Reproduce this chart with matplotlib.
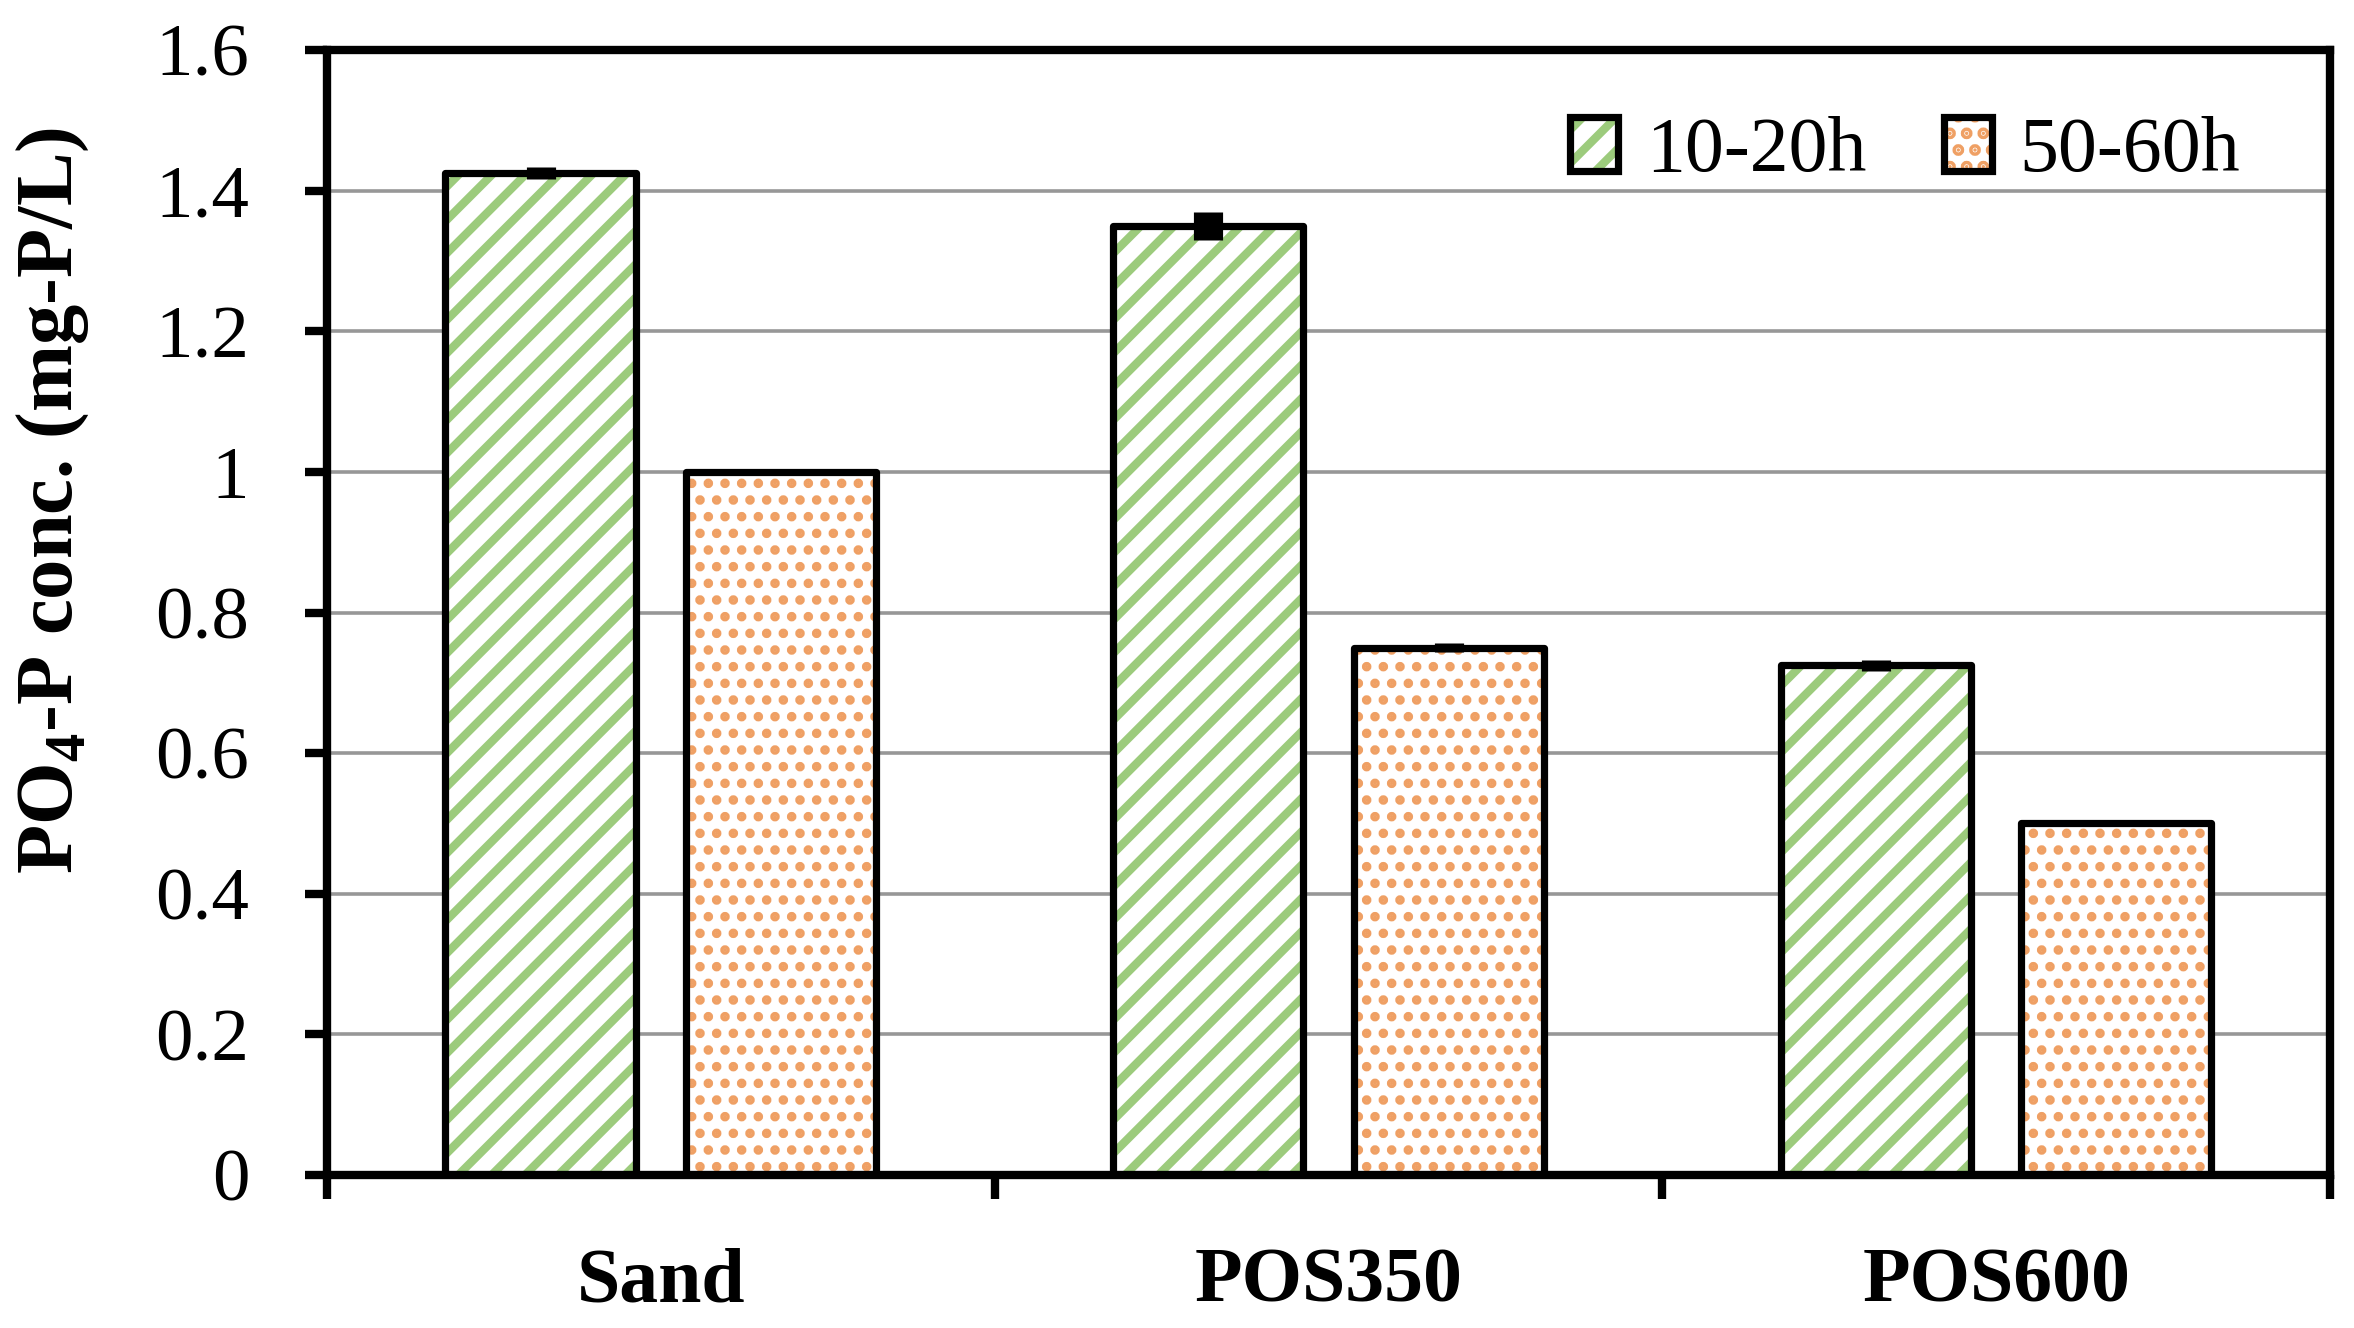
import matplotlib
matplotlib.use("Agg")
import matplotlib.pyplot as plt
import numpy as np
from matplotlib.patches import Patch

# Data
categories = ["Sand", "POS350", "POS600"]
series_names = ["10-20h", "50-60h"]
conc_10_20h = [1.425, 1.35, 0.725]
conc_50_60h = [1.00, 0.75, 0.50]
err_10_20h = [0.008, 0.02, 0.008]
err_50_60h = [0.003, 0.006, 0.003]
y_ticks = [0, 0.2, 0.4, 0.6, 0.8, 1.0, 1.2, 1.4, 1.6]
y_tick_labels = ["0", "0.2", "0.4", "0.6", "0.8", "1", "1.2", "1.4", "1.6"]

plt.rcParams["font.family"] = ["Liberation Serif", "DejaVu Serif"]
plt.rcParams["mathtext.fontset"] = "custom"
plt.rcParams["mathtext.rm"] = "Liberation Serif"
plt.rcParams["mathtext.bf"] = "Liberation Serif:bold"
plt.rcParams["hatch.linewidth"] = 3.0

green = "#9ccb7c"
orange = "#efa064"
bar_w = 0.285
offset = 0.18

fig, ax = plt.subplots(figsize=(11.77, 6.64), dpi=200)
fig.subplots_adjust(left=0.1389, right=0.9898, bottom=0.1152, top=0.9623)

x = np.arange(len(categories)) + 0.5


# Hatched fill, black outline on top, thick black error bar
def hatched_bars(xpos, vals, errs, hatch, color, hatch_lw):
    fill = ax.bar(xpos, vals, bar_w, color="white", edgecolor=color,
                  linewidth=0, hatch=hatch, zorder=2)
    for p in fill:
        if hasattr(p, "set_hatch_linewidth"):
            p.set_hatch_linewidth(hatch_lw)
    ax.bar(xpos, vals, bar_w, facecolor="none", edgecolor="black",
           linewidth=2.6, joinstyle="round", zorder=3)
    ax.errorbar(xpos, vals, yerr=errs, fmt="none", ecolor="black",
                elinewidth=10.5, capsize=0, zorder=4)


hatched_bars(x - offset, conc_10_20h, err_10_20h, "//", green, 3.0)
hatched_bars(x + offset, conc_50_60h, err_50_60h, "..", orange, 2.2)

ax.set_xlim(0, 3)
ax.set_ylim(0, 1.6)
ax.set_yticks(y_ticks)
ax.set_yticklabels(y_tick_labels, fontsize=27)
ax.set_xticks([0, 1, 2, 3])
ax.set_xticklabels([])
ax.set_xticks(x, minor=True)
ax.set_xticklabels(categories, minor=True, fontsize=28, fontweight="bold")
ax.tick_params(axis="x", which="major", direction="out", length=8.5, width=3)
ax.tick_params(axis="x", which="minor", length=0, pad=26)
ax.tick_params(axis="y", direction="out", length=8, width=3, pad=20)
for s in ax.spines.values():
    s.set_linewidth(3)
ax.yaxis.grid(True, color="#979797", linewidth=1.3)
ax.set_axisbelow(True)

ax.set_ylabel("PO$_\\mathbf{4}$-P conc. (mg-P/L)", fontsize=29, fontweight="bold")
ax.yaxis.set_label_coords(-0.118, 0.6)

# Legend: hatch patch overlaid with black outline
g_fill = Patch(facecolor="white", edgecolor=green, linewidth=0, hatch="//")
o_fill = Patch(facecolor="white", edgecolor=orange, linewidth=0, hatch="..")
outline = Patch(facecolor="none", edgecolor="black", linewidth=2.6, joinstyle="round")
ax.legend(handles=[(g_fill, outline), (o_fill, outline)], labels=series_names,
          ncol=2, frameon=False, fontsize=28, loc="center right",
          bbox_to_anchor=(0.955, 0.909), borderpad=0, borderaxespad=0,
          handlelength=0.62, handleheight=0.7, handletextpad=0.35,
          columnspacing=1.0)

fig.savefig("out.png", dpi=200)
